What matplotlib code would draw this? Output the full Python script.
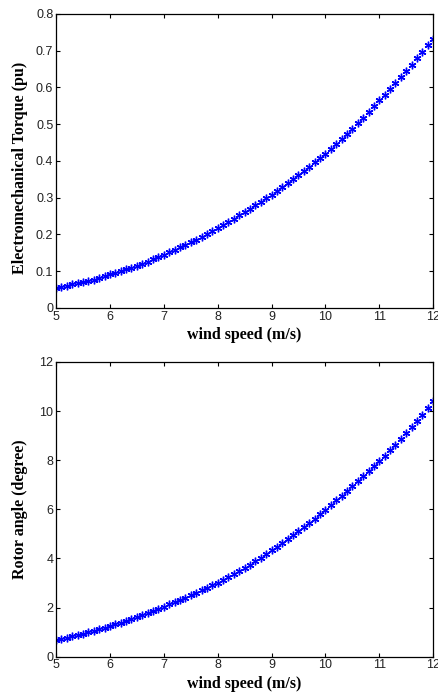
import matplotlib
matplotlib.use("Agg")
import matplotlib.pyplot as plt
import numpy as np

# wind speed grid (m/s), 0.1 step
wind_speed = np.round(np.arange(5.0, 12.05, 0.1), 1)

# electromechanical torque (pu)
torque = [
    0.054, 0.057, 0.060, 0.064, 0.067, 0.070, 0.074, 0.077, 0.081, 0.086,
    0.091, 0.095, 0.100, 0.105, 0.110, 0.115, 0.120, 0.126, 0.132, 0.138,
    0.145, 0.151, 0.158, 0.165, 0.172, 0.179, 0.186, 0.194, 0.202, 0.210,
    0.218, 0.226, 0.234, 0.243, 0.252, 0.261, 0.270, 0.279, 0.288, 0.298,
    0.308, 0.318, 0.328, 0.339, 0.350, 0.361, 0.372, 0.384, 0.396, 0.408,
    0.420, 0.433, 0.446, 0.460, 0.474, 0.488, 0.502, 0.517, 0.532, 0.548,
    0.565, 0.580, 0.596, 0.612, 0.628, 0.645, 0.662, 0.679, 0.696, 0.714,
    0.732,
]

# rotor angle (degree)
rotor_angle = [
    0.68, 0.73, 0.78, 0.83, 0.88, 0.93, 0.99, 1.05, 1.11, 1.18,
    1.25, 1.32, 1.39, 1.46, 1.53, 1.61, 1.69, 1.77, 1.86, 1.95,
    2.04, 2.13, 2.22, 2.31, 2.40, 2.50, 2.60, 2.70, 2.80, 2.91,
    3.02, 3.13, 3.25, 3.37, 3.49, 3.62, 3.75, 3.88, 4.02, 4.17,
    4.33, 4.48, 4.63, 4.79, 4.95, 5.11, 5.28, 5.45, 5.62, 5.80,
    5.99, 6.17, 6.36, 6.55, 6.74, 6.94, 7.14, 7.34, 7.54, 7.75,
    7.96, 8.18, 8.40, 8.63, 8.86, 9.10, 9.34, 9.59, 9.85, 10.13,
    10.41,
]

x_ticks = [5, 6, 7, 8, 9, 10, 11, 12]
torque_ticks = [0, 0.1, 0.2, 0.3, 0.4, 0.5, 0.6, 0.7, 0.8]
torque_labels = ["0", "0.1", "0.2", "0.3", "0.4", "0.5", "0.6", "0.7", "0.8"]
angle_ticks = [0, 2, 4, 6, 8, 10, 12]

label_font = dict(family="Liberation Serif", fontweight="bold", fontsize=11.5)

fig = plt.figure(figsize=(4.38, 6.92), dpi=100)
ax1 = fig.add_axes([0.128, 0.555, 0.861, 0.425])
ax2 = fig.add_axes([0.128, 0.051, 0.861, 0.426])

asterisk = (6, 2, 0)

ax1.plot(wind_speed, torque, linestyle="none", marker=asterisk,
         color="blue", markersize=5.5, markeredgewidth=1.0)
ax1.set_xlim(5, 12)
ax1.set_ylim(0, 0.8)
ax1.set_yticks(torque_ticks)
ax1.set_yticklabels(torque_labels)
ax1.set_ylabel("Electromechanical Torque (pu)", **label_font)
ax1.yaxis.set_label_coords(-0.075, 0.475)

ax2.plot(wind_speed, rotor_angle, linestyle="none", marker=asterisk,
         color="blue", markersize=5.5, markeredgewidth=1.0)
ax2.set_xlim(5, 12)
ax2.set_ylim(0, 12)
ax2.set_yticks(angle_ticks)
ax2.set_ylabel("Rotor angle (degree)", **label_font)
ax2.yaxis.set_label_coords(-0.075, 0.5)

for ax in (ax1, ax2):
    ax.set_xticks(x_ticks)
    ax.set_xlabel("wind speed (m/s)", labelpad=3, **label_font)
    ax.tick_params(direction="in", top=True, right=True, length=3,
                   width=0.8, labelsize=9, pad=2)
    for lab in ax.get_xticklabels() + ax.get_yticklabels():
        lab.set_family("Liberation Sans")
        lab.set_color("#222222")
    for s in ax.spines.values():
        s.set_linewidth(0.9)

fig.savefig("out.png", dpi=100)
